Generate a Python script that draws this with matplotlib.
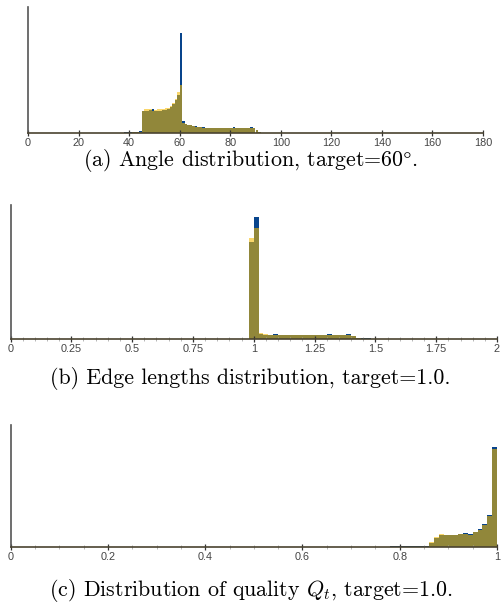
import numpy as np
import matplotlib
matplotlib.use("Agg")
import matplotlib.pyplot as plt

plt.rcParams['mathtext.fontset'] = 'cm'
plt.rcParams['axes.unicode_minus'] = False

# (a) angle distribution, bins of 1 degree starting at 36
angle_edges = list(range(36, 92))
angle_blue = [0.5, 0.5, 1, 1, 1, 1.5, 1.5, 1.5, 2,
              22, 22, 22, 23, 24, 22, 22, 22, 23, 23, 24, 26, 29, 33, 38,
              100, 12, 9, 8, 8, 7, 7, 6, 6, 6,
              5.5, 5.5, 5.5, 5.5, 5.5, 5.5, 5.5, 5.5, 5.5, 5.5, 5.5, 6.5, 5.5, 5.5,
              5.5, 5.5, 5.5, 5.5, 6.5, 5.5, 3, 1]
angle_yellow = [0.5, 0.5, 0.5, 0.5, 0.5, 1, 1, 1, 1,
                22, 24, 24, 24, 22, 23, 24, 24, 24, 25, 25, 27, 30, 34, 41,
                48, 10, 9, 8, 8, 7, 6, 6, 6, 5.5,
                5.5, 5, 5.5, 5, 5.5, 5, 5, 5.5, 5, 5.5, 5, 5.5, 5, 5.5,
                5, 5, 5.5, 5, 5.5, 5, 3, 1]

# (b) edge lengths, bins of 0.02 starting at 0.96
edge_edges = [round(0.96 + 0.02 * i, 2) for i in range(38)]
edge_blue = [0.5, 97, 122, 5, 4.5, 4.5, 5.5, 4, 4, 4, 4, 4, 4, 4, 4, 4, 4, 5, 4, 4, 4, 5.5,
             3, 1, 1, 1, 0, 0, 0, 0, 0, 0, 0, 0, 0, 0, 0, 0]
edge_yellow = [0.5, 101, 111, 6, 5, 4, 4, 4, 4, 4.5, 4, 4, 4.5, 4, 4, 4, 4, 4, 4, 4.5, 4, 4,
               3, 1, 0.5, 0.5, 0.5, 0.5, 0.5, 0.5, 0.5, 0.5, 0.5, 0.5, 0.5, 0.5, 0.5, 0.5]

# (c) quality Q_t, bins of 0.01 starting at 0.70
qual_edges = [round(0.70 + 0.01 * i, 2) for i in range(30)]
qual_blue = [0, 0, 0, 0, 0, 0, 0, 0, 1, 1, 1, 1, 1, 1, 1, 1,
             4, 9, 12, 12, 12, 12, 13, 14, 13, 15, 18, 23, 32, 100]
qual_yellow = [0.5, 0.5, 0.5, 0.5, 0.5, 0.5, 0.5, 0.5, 0.5, 0.5, 0.5, 0.5, 0.5, 0.5, 0.5, 0.5,
               5, 10, 13, 12.5, 12.5, 12.5, 13, 13, 12, 15, 17, 22, 31, 98]

angle_ticks = [0, 20, 40, 60, 80, 100, 120, 140, 160, 180]
edge_ticks = [0, 0.25, 0.5, 0.75, 1, 1.25, 1.5, 1.75, 2]
edge_labels = ['0', '0.25', '0.5', '0.75', '1', '1.25', '1.5', '1.75', '2']
qual_ticks = [0, 0.2, 0.4, 0.6, 0.8, 1]
qual_labels = ['0', '0.2', '0.4', '0.6', '0.8', '1']

BLUE = '#08448c'
YELLOW = (246 / 255, 185 / 255, 0.0)
W, H = 501, 608

fig = plt.figure(figsize=(W / 100, H / 100), dpi=100)


def panel(rect, edges, blue, yellow, width, xlim, ylim, ticks, labels, minor, caption, cap_y):
    l, r, top, base = rect
    ax = fig.add_axes([l / W, (H - base) / H, (r - l) / W, (base - top) / H])
    ax.bar(edges, blue, width=width, align='edge', color=BLUE, linewidth=0)
    ax.bar(edges, yellow, width=width, align='edge', color=YELLOW, alpha=0.58, linewidth=0)
    ax.set_xlim(*xlim)
    ax.set_ylim(0, ylim)
    ax.spines['top'].set_visible(False)
    ax.spines['right'].set_visible(False)
    ax.spines['left'].set_color('#555555')
    ax.spines['left'].set_linewidth(1.2)
    ax.spines['bottom'].set_color('#4a4330')
    ax.spines['bottom'].set_linewidth(1.2)
    ax.set_yticks([])
    ax.set_xticks(ticks)
    ax.set_xticklabels(labels, fontsize=7.8, color='#444444', family='Liberation Sans')
    ax.tick_params(axis='x', which='major', direction='inout', length=5, width=0.9,
                   color='#333333', pad=1)
    if minor is not None:
        ax.set_xticks(minor, minor=True)
        ax.tick_params(axis='x', which='minor', direction='inout', length=3, width=0.6,
                       color='#aaaaaa')
    fig.text(0.5, 1 - cap_y / H, caption, ha='center', va='center',
             fontsize=15.8, family='cmr10')
    return ax


panel((28, 483, 7, 133), angle_edges, angle_blue, angle_yellow, 1.0, (0, 180), 126,
      angle_ticks, [str(t) for t in angle_ticks], None,
      r"(a) Angle distribution, target=60$\degree$.", 161)

panel((10.5, 497, 205, 339), edge_edges, edge_blue, edge_yellow, 0.02, (0, 2), 134,
      edge_ticks, edge_labels, np.arange(0, 2.001, 0.05),
      "(b) Edge lengths distribution, target=1.0.", 378)

panel((10.7, 497, 425, 547), qual_edges, qual_blue, qual_yellow, 0.01, (0, 1), 122,
      qual_ticks, qual_labels, np.arange(0, 1.001, 0.05),
      r"(c) Distribution of quality $Q_t$, target=1.0.", 591)

fig.savefig("out.png", dpi=100)
